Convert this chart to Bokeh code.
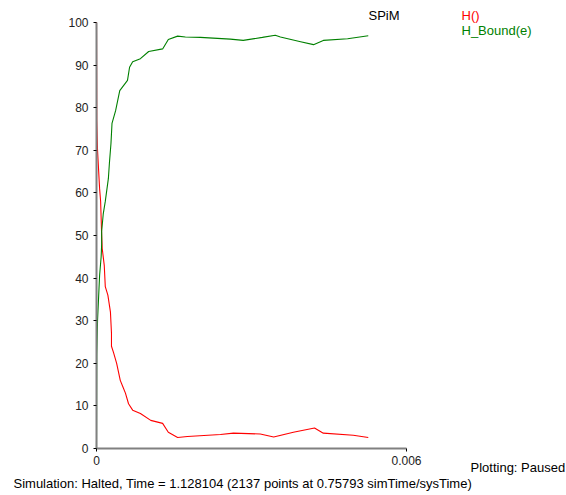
from bokeh.plotting import figure
from bokeh.models import Label, FixedTicker, Range1d
from bokeh.embed import file_html
from bokeh.resources import INLINE

# Simulation traces (time, population)
h_time = [0.0, 0.000005, 0.00002, 0.00006, 0.00008, 0.0001, 0.00011, 0.00015,
          0.00017, 0.00022, 0.00027, 0.00029, 0.00029, 0.00033, 0.00039, 0.00046,
          0.00051, 0.00056, 0.00062, 0.0007, 0.00085, 0.00105, 0.00128, 0.00139,
          0.00157, 0.00176, 0.0024, 0.00265, 0.00317, 0.00343, 0.00381, 0.00422,
          0.00439, 0.00497, 0.00526]
h_free = [100, 77, 70, 61, 58, 50, 47, 43,
          38, 36, 32, 27, 24, 22.5, 20, 16,
          14.5, 13, 10.5, 9, 8.2, 6.6, 5.9, 3.8,
          2.6, 2.8, 3.3, 3.6, 3.4, 2.7, 3.8, 4.8,
          3.6, 3.1, 2.6]

b_time = [0.0, 0.000005, 0.00002, 0.00006, 0.00009, 0.0001, 0.0001, 0.00013,
          0.00017, 0.00023, 0.00025, 0.00028, 0.0003, 0.00037, 0.00045, 0.0006,
          0.00064, 0.0007, 0.00085, 0.00101, 0.00128, 0.00139, 0.00157, 0.00172,
          0.00201, 0.00259, 0.00284, 0.00321, 0.00346, 0.00356, 0.00395, 0.0042,
          0.00439, 0.00486, 0.00526]
h_bound = [0, 22, 30, 40.6, 45, 48, 51, 55,
           58, 63.4, 67, 71.6, 76.3, 79.3, 84, 86.4,
           89.5, 90.8, 91.5, 93.2, 93.8, 96, 96.8, 96.6,
           96.5, 96.1, 95.8, 96.5, 97, 96.6, 95.5, 94.8,
           95.8, 96.2, 96.9]

y_ticks = [0, 10, 20, 30, 40, 50, 60, 70, 80, 90, 100]
x_ticks = [0, 0.006]
x_tick_labels = {0: "0", 0.006: "0.006"}

series_names = ["H()", "H_Bound(e)"]
series_colors = ["#ff0000", "#008000"]
status_text = "Simulation: Halted, Time = 1.128104 (2137 points at 0.75793 simTime/sysTime)"
plot_state = "Plotting: Paused"

FONT = "Liberation Sans"

# canvas geometry: the axes box spans these pixel edges inside the canvas
W, H = 566, 495
AX_LEFT, AX_RIGHT, AX_TOP, AX_BOTTOM = 96, 406, 22, 448
X_MAX, Y_MAX = 0.006, 100.0

# the frame fills the whole canvas; ranges are widened so the data box lands
# on the pixel edges above, and the axes are pinned at zero
x_per_px = X_MAX / (AX_RIGHT - AX_LEFT)
y_per_px = Y_MAX / (AX_BOTTOM - AX_TOP)
x_range = Range1d(-AX_LEFT * x_per_px, (W - AX_LEFT) * x_per_px)
y_range = Range1d(-(H - AX_BOTTOM) * y_per_px, AX_BOTTOM * y_per_px)

p = figure(width=W, height=H, output_backend="svg", toolbar_location=None,
           title=None, x_range=x_range, y_range=y_range,
           min_border=0, min_border_left=0, min_border_right=0,
           min_border_top=0, min_border_bottom=0)
p.outline_line_color = None
p.background_fill_color = "white"
p.border_fill_color = "white"
p.xgrid.visible = False
p.ygrid.visible = False

for ax in (p.xaxis[0], p.yaxis[0]):
    ax.fixed_location = 0
    ax.axis_line_color = "#808080"
    ax.axis_line_width = 2
    ax.major_tick_line_color = "#000000"
    ax.major_tick_in = 0
    ax.major_tick_out = 3
    ax.minor_tick_line_color = None
    ax.major_label_text_font = FONT
    ax.major_label_text_font_size = "12px"
    ax.major_label_text_color = "#222222"

p.yaxis[0].ticker = FixedTicker(ticks=y_ticks)
p.yaxis[0].bounds = (0, Y_MAX)
p.yaxis[0].major_label_standoff = 5
p.xaxis[0].ticker = FixedTicker(ticks=x_ticks)
p.xaxis[0].bounds = (0, X_MAX)
p.xaxis[0].major_label_overrides = x_tick_labels
p.xaxis[0].major_label_standoff = 4

p.line(h_time, h_free, line_color=series_colors[0], line_width=1.1)
p.line(b_time, h_bound, line_color=series_colors[1], line_width=1.1)

def add_text(txt, left, center_y, color="#000000"):
    # left / center_y are canvas pixels measured from the top-left corner
    p.add_layout(Label(x=left, y=H - center_y, x_units="screen", y_units="screen",
                       text=txt, text_font=FONT, text_font_size="13px",
                       text_color=color, text_baseline="middle", text_align="left"))

add_text("SPiM", 368, 15)
add_text(series_names[0], 461, 15, series_colors[0])
add_text(series_names[1], 461, 30, series_colors[1])
add_text(plot_state, 470, 467)
add_text(status_text, 13, 483)

open("out.html", "w").write(file_html(p, INLINE))
